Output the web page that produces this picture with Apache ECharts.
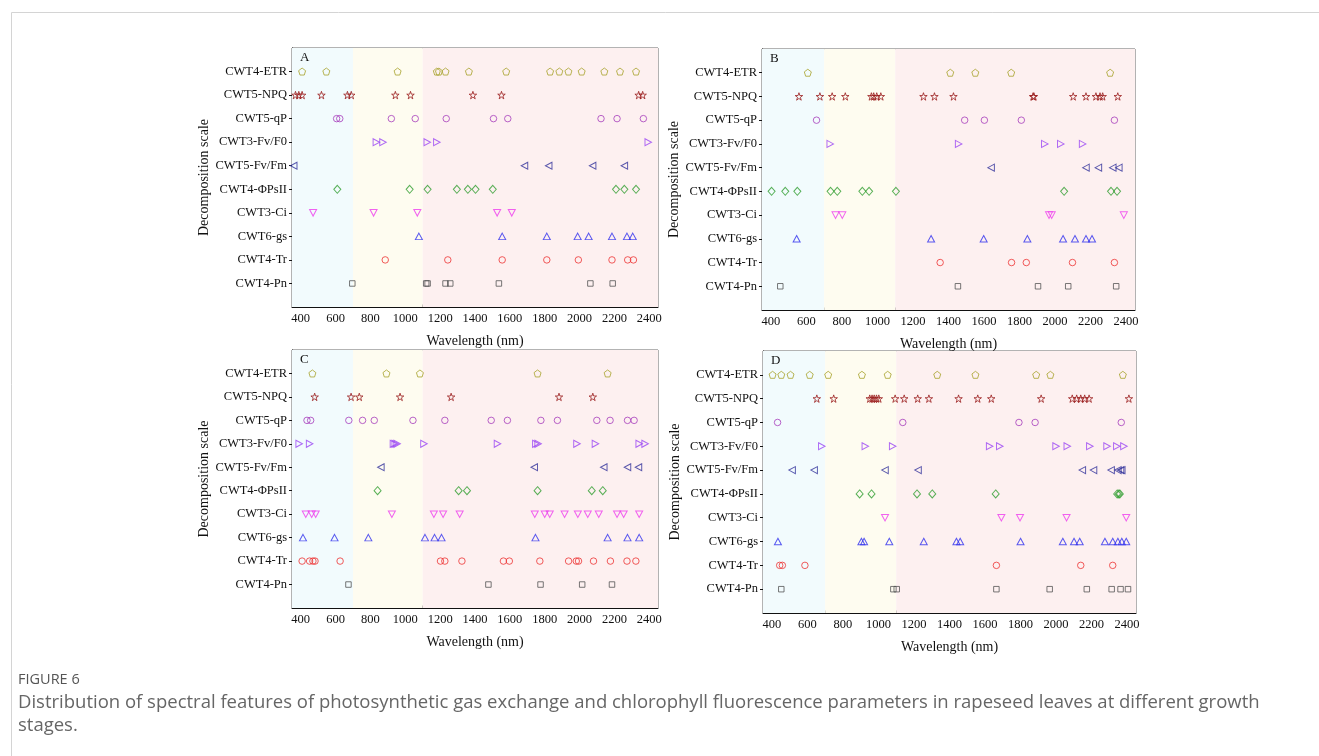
<!DOCTYPE html>
<html>
<head>
<meta charset="utf-8">
<script src="https://cdn.jsdelivr.net/npm/echarts@6/dist/echarts.min.js"></script>
<style>
html,body{margin:0;padding:0;background:#fff;}
#chart{width:1319px;height:756px;}
</style>
</head>
<body>
<div id="chart"></div>
<script>
// ---- categories (bottom to top) ----
const rowNames = ['CWT4-Pn','CWT4-Tr','CWT6-gs','CWT3-Ci','CWT4-ΦPsII','CWT5-Fv/Fm','CWT3-Fv/F0','CWT5-qP','CWT5-NPQ','CWT4-ETR'];
const xTickLabels = [400,600,800,1000,1200,1400,1600,1800,2000,2200,2400];
const xMinorTicks = [500,700,900,1100,1300,1500,1700,1900,2100,2300];
const panelLetters = ['A','B','C','D'];
const bandEdges = [350,700,1100,2450];

// ---- Panel A (wavelengths, nm) ----
const A_Pn    = [696,1120,1128,1231,1258,1537,2062,2190];
const A_Tr    = [885,1244,1556,1812,1993,2186,2276,2309];
const A_gs    = [1078,1556,1812,1989,2052,2186,2272,2305];
const A_Ci    = [471,818,1069,1527,1611];
const A_PsII  = [610,1025,1128,1296,1359,1403,1502,2209,2257,2324];
const A_FvFm  = [360,1684,1823,2075,2257];
const A_FvF0  = [834,872,1126,1181,2394];
const A_qP    = [606,624,920,1057,1235,1506,1588,2123,2215,2366];
const A_NPQ   = [370,389,408,519,668,690,943,1030,1388,1552,2339,2362];
const A_ETR   = [408,547,956,1181,1193,1231,1365,1579,1831,1884,1936,2012,2142,2232,2324];

// ---- Panel B ----
const B_Pn    = [453,1453,1904,2074,2344];
const B_Tr    = [1353,1755,1838,2098,2334];
const B_gs    = [545,1302,1598,1844,2045,2112,2174,2208];
const B_Ci    = [764,802,1966,1981,2387];
const B_PsII  = [404,481,549,736,774,915,953,1104,2051,2315,2349];
const B_FvFm  = [1640,2174,2244,2325,2359];
const B_FvF0  = [734,1457,1942,2032,2155];
const B_qP    = [657,1491,1602,1810,2334];
const B_NPQ   = [558,676,745,819,966,979,996,1019,1259,1321,1428,1876,1881,2102,2174,2230,2253,2268,2353];
const B_ETR   = [608,1410,1551,1753,2310];

// ---- Panel C ----
const C_Pn    = [674,1477,1776,2015,2186];
const C_Tr    = [408,451,470,482,626,1202,1227,1325,1563,1597,1772,1937,1981,1994,2080,2177,2272,2323];
const C_gs    = [413,594,788,1113,1168,1208,1747,2161,2275,2342];
const C_Ci    = [429,463,486,923,1164,1217,1312,1743,1800,1829,1914,1990,2047,2110,2215,2253,2342];
const C_PsII  = [841,1306,1354,1759,2070,2133];
const C_FvFm  = [860,1740,2139,2275,2338];
const C_FvF0  = [391,451,932,942,953,1107,1529,1749,1762,1985,2091,2342,2376];
const C_qP    = [436,457,676,755,822,1044,1227,1493,1586,1778,1873,2099,2175,2275,2313];
const C_NPQ   = [480,689,736,970,1263,1882,2076];
const C_ETR   = [467,892,1084,1759,2161];

// ---- Panel D ----
const D_Pn    = [453,1084,1103,1664,1964,2173,2313,2363,2405];
const D_Tr    = [444,459,586,1664,2139,2319];
const D_gs    = [434,904,919,1061,1255,1439,1460,1800,2038,2101,2133,2275,2319,2348,2370,2395];
const D_Ci    = [1037,1692,1797,2059,2395];
const D_PsII  = [894,961,1217,1303,1660,2344,2353,2359];
const D_FvFm  = [514,638,1037,1223,2148,2211,2310,2348,2363,2370];
const D_FvF0  = [681,926,1080,1626,1683,2000,2063,2190,2287,2342,2382];
const D_qP    = [432,1137,1791,1882,2367];
const D_NPQ   = [653,748,951,964,976,989,1002,1094,1145,1221,1284,1451,1559,1635,1916,2091,2116,2139,2161,2186,2410];
const D_ETR   = [404,453,505,613,717,907,1052,1331,1546,1888,1968,2376];

const panels = [
  [A_Pn,A_Tr,A_gs,A_Ci,A_PsII,A_FvFm,A_FvF0,A_qP,A_NPQ,A_ETR],
  [B_Pn,B_Tr,B_gs,B_Ci,B_PsII,B_FvFm,B_FvF0,B_qP,B_NPQ,B_ETR],
  [C_Pn,C_Tr,C_gs,C_Ci,C_PsII,C_FvFm,C_FvF0,C_qP,C_NPQ,C_ETR],
  [D_Pn,D_Tr,D_gs,D_Ci,D_PsII,D_FvFm,D_FvF0,D_qP,D_NPQ,D_ETR]
];

// ---- styles ----
const rowColors = ['#555555','#ee3333','#3030ee','#ee3cee','#2f9e2f','#30309a','#9a44f4','#a63cbc','#9a1c1c','#a8a22c'];
const rowSymbols = [
  'rect',
  'circle',
  'path://M5,0 L10,9 L0,9 Z',
  'path://M0,0 L10,0 L5,9 Z',
  'diamond',
  'path://M10,0 L0,5 L10,10 Z',
  'path://M0,0 L10,5 L0,10 Z',
  'circle',
  'path://M5,0 L6.2,3.6 L10,3.6 L6.9,5.9 L8.1,9.5 L5,7.3 L1.9,9.5 L3.1,5.9 L0,3.6 L3.8,3.6 Z',
  'path://M5,0 L10,3.8 L8.1,10 L1.9,10 L0,3.8 Z'
];
const rowSizes = [5.5,6.5,[7,6.5],[7,6.5],[7,8],[6.5,7],[6.5,7],6.5,7.5,7];
const bandColors = ['#f2fbfd','#fefcf0','#fdf0f0'];

const grids = [
  {left:292, top:48, width:366, height:259},
  {left:762, top:49, width:373, height:261},
  {left:292, top:350, width:366, height:258},
  {left:763, top:351, width:373, height:262}
];
const yNameGaps = [78, 80, 78, 80];

const serif = 'Liberation Serif';
const xAxes = [], yAxes = [], series = [], graphics = [];

grids.forEach((g, gi) => {
  xAxes.push({
    type:'value', gridIndex:gi, min:350, max:2450,
    name:'Wavelength (nm)', nameLocation:'middle', nameGap:27,
    nameTextStyle:{fontFamily:serif, fontSize:14, color:'#111'},
    axisLine:{show:true, lineStyle:{color:'#111', width:1}},
    axisTick:{show:true, inside:true, length:4, customValues:xTickLabels, lineStyle:{color:'#111'}},
    axisLabel:{customValues:xTickLabels, margin:5, fontFamily:serif, fontSize:12.5, color:'#111',
      formatter: v => String(Math.round(v))},
    splitLine:{show:false}
  });
  xAxes.push({
    type:'value', gridIndex:gi, min:350, max:2450, position:'bottom',
    axisLine:{show:false},
    axisTick:{show:true, inside:true, length:2.5, customValues:xMinorTicks, lineStyle:{color:'#111'}},
    axisLabel:{show:false},
    splitLine:{show:false}
  });
  yAxes.push({
    type:'value', gridIndex:gi, min:0, max:11,
    name:'Decomposition scale', nameLocation:'middle', nameGap:yNameGaps[gi], nameRotate:90,
    nameTextStyle:{fontFamily:serif, fontSize:14, color:'#111'},
    axisLine:{show:true, lineStyle:{color:'#111', width:1}},
    axisTick:{show:true, inside:false, length:3, customValues:[1,2,3,4,5,6,7,8,9,10], lineStyle:{color:'#111'}},
    axisLabel:{customValues:[1,2,3,4,5,6,7,8,9,10], margin:5, fontFamily:serif, fontSize:12.5, color:'#111',
      formatter: v => rowNames[v-1] || ''},
    splitLine:{show:false}
  });
  panels[gi].forEach((arr, ri) => {
    const s = {
      type:'scatter', xAxisIndex:gi*2, yAxisIndex:gi,
      symbol: rowSymbols[ri], symbolSize: rowSizes[ri],
      itemStyle:{color:'rgba(0,0,0,0)', borderColor:rowColors[ri], borderWidth:1},
      emphasis:{disabled:true}, silent:true, z:3,
      data: arr.map(x => [x, ri+1])
    };
    if (ri === 0) {
      s.markArea = {
        silent:true, z:1,
        data: bandColors.map((c, bi) => [
          {xAxis:bandEdges[bi], itemStyle:{color:c}},
          {xAxis:bandEdges[bi+1]}
        ])
      };
    }
    series.push(s);
  });
  graphics.push({
    type:'text', left:g.left+8, top:g.top+3, z:10,
    style:{text:panelLetters[gi], font:'13px "Liberation Serif"', fill:'#111'}
  });
});

// page border and caption
graphics.push({type:'line', shape:{x1:11.5, y1:12.5, x2:1319, y2:12.5}, style:{stroke:'#d4d4d4', lineWidth:1}});
graphics.push({type:'line', shape:{x1:11.5, y1:12.5, x2:11.5, y2:756}, style:{stroke:'#d4d4d4', lineWidth:1}});
graphics.push({type:'text', left:18, top:672, style:{text:'FIGURE 6', font:'14.5px "Open Sans"', fill:'#555'}});
graphics.push({type:'text', left:18, top:693, style:{text:'Distribution of spectral features of photosynthetic gas exchange and chlorophyll fluorescence parameters in rapeseed leaves at different growth', font:'18.5px "Open Sans"', fill:'#666'}});
graphics.push({type:'text', left:18, top:716, style:{text:'stages.', font:'18.5px "Open Sans"', fill:'#666'}});

const chart = echarts.init(document.getElementById('chart'), null, {renderer:'canvas'});
chart.setOption({
  animation:false,
  backgroundColor:'#ffffff',
  grid: grids.map(g => Object.assign({show:true, borderColor:'#666', borderWidth:1, backgroundColor:'transparent'}, g)),
  xAxis: xAxes,
  yAxis: yAxes,
  series: series,
  graphic: graphics
});
</script>
</body>
</html>
